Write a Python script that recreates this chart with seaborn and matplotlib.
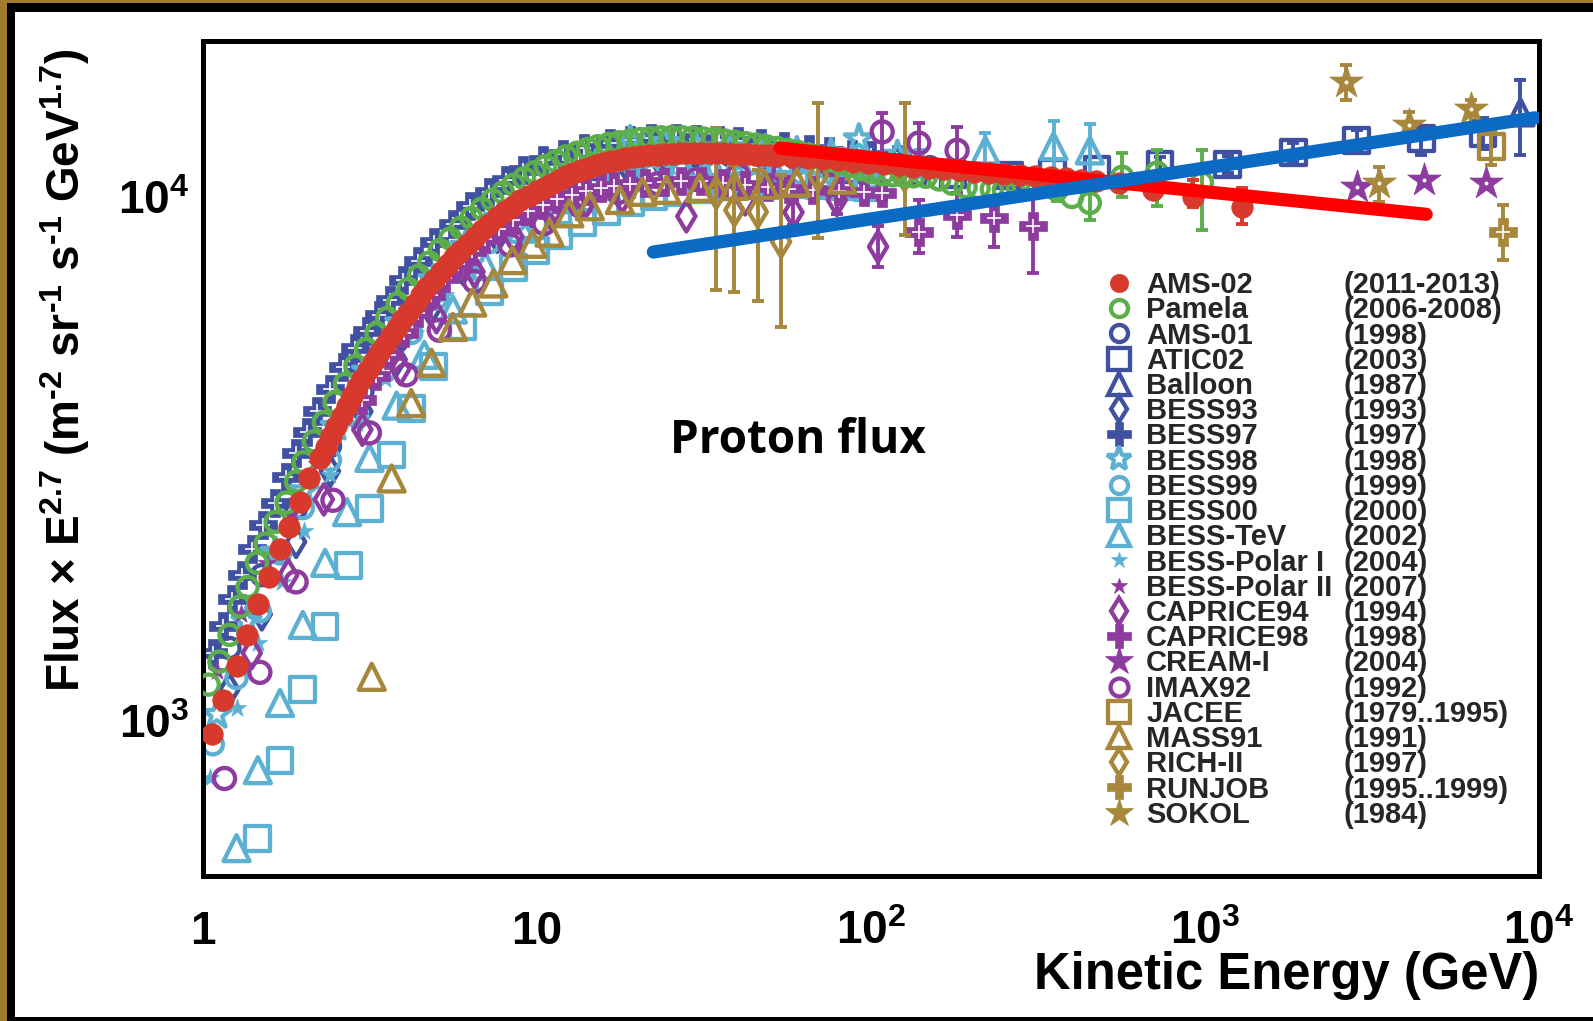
import numpy as np
import matplotlib
matplotlib.use("Agg")
import matplotlib.pyplot as plt
import matplotlib.ticker as mticker
from matplotlib.lines import Line2D
from matplotlib.patches import Rectangle
import seaborn as sns

sns.set_theme(style="white")
plt.rcParams['font.family'] = ['Liberation Sans', 'DejaVu Sans']
plt.rcParams['font.weight'] = 'bold'
plt.rcParams['mathtext.fontset'] = 'custom'
plt.rcParams['mathtext.rm'] = 'Liberation Sans:bold'
plt.rcParams['mathtext.bf'] = 'Liberation Sans:bold'
plt.rcParams['mathtext.it'] = 'Liberation Sans:bold'
plt.rcParams['mathtext.default'] = 'bf'

# ---------------- data (kinetic energy in GeV, flux x E^2.7) ----------------
ams02_E = [1.065, 1.15, 1.26, 1.35, 1.46, 1.58, 1.70, 1.81, 1.95, 2.07, 2.24, 2.33, 2.42, 2.51,
           2.60, 2.70, 2.80, 2.90, 3.00, 3.12, 3.25, 3.37, 3.50, 3.65, 3.80, 3.95, 4.10, 4.30,
           4.50, 4.70, 4.90, 5.15, 5.40, 5.65, 5.90, 6.20, 6.50, 6.85, 7.20, 7.60, 8.00, 8.45,
           8.90, 9.45, 10.0, 10.5, 11.0, 11.6, 12.2, 12.85, 13.5, 14.2, 15.0, 15.8, 16.7, 17.6,
           18.5, 19.5, 20.5, 21.6, 22.8, 24.0, 25.3, 26.6, 28.0, 29.5, 31.0, 32.7, 34.5, 36.4,
           38.3, 40.4, 42.5, 44.8, 47.2, 49.8, 52.4, 58.2, 64.6, 71.7, 79.6, 88.4, 98.1, 109,
           121, 134, 149, 165, 184, 204, 226, 251, 279, 310, 345, 383, 425, 472, 554, 700, 918,
           1294]
ams02_F = [944, 1100, 1274, 1462, 1671, 1883, 2130, 2345, 2625, 2905, 3180, 3340, 3500, 3665,
           3830, 4000, 4170, 4335, 4500, 4685, 4870, 5045, 5220, 5420, 5620, 5820, 6020, 6260,
           6500, 6725, 6950, 7200, 7450, 7675, 7900, 8150, 8400, 8650, 8900, 9150, 9400, 9625,
           9850, 10050, 10250, 10425, 10600, 10775, 10950, 11100, 11250, 11375, 11500, 11600,
           11700, 11775, 11850, 11900, 11950, 12000, 12050, 12075, 12100, 12110, 12120, 12125,
           12130, 12125, 12120, 12110, 12100, 12085, 12070, 12050, 12030, 12005, 11980, 11920,
           11860, 11800, 11740, 11680, 11610, 11550, 11490, 11420, 11360, 11300, 11240, 11180,
           11120, 11060, 11000, 10950, 10900, 10850, 10780, 10720, 10650, 10300, 10000, 9560]
ams02_err = {554: (250, 250), 700: (300, 300), 918: (440, 790), 1294: (660, 850)}

pamela_E = [1.04, 1.12, 1.20, 1.29, 1.36, 1.45, 1.54, 1.65, 1.78, 1.90, 2.00, 2.15, 2.30, 2.48,
            2.66, 2.86, 3.08, 3.31, 3.56, 3.83, 4.12, 4.43, 4.76, 5.12, 5.50, 5.92, 6.36, 6.84,
            7.36, 7.91, 8.51, 9.15, 9.84, 10.6, 11.4, 12.2, 13.2, 14.2, 15.2, 16.4, 17.6, 18.9,
            20.4, 21.9, 23.5, 25.3, 27.2, 29.3, 31.5, 33.8, 36.4, 39.1, 42.1, 45.2, 48.6, 52.3,
            56.2, 60.5, 65.0, 69.9, 75.2, 80.8, 86.9, 93.5, 100.5, 108, 116, 125, 134, 146, 160,
            175, 192, 210, 230, 250, 275, 303, 330, 360, 400, 452, 565, 718, 979]
pamela_F = [1175, 1300, 1462, 1655, 1804, 2006, 2183, 2400, 2614, 2865, 3120, 3420, 3720, 4060,
            4400, 4760, 5130, 5500, 5880, 6270, 6680, 7080, 7500, 7920, 8330, 8740, 9120, 9500,
            9870, 10200, 10550, 10850, 11150, 11450, 11700, 11950, 12150, 12350, 12500, 12620,
            12720, 12800, 12900, 12960, 13000, 13010, 13000, 12970, 12930, 12880, 12820, 12750,
            12670, 12590, 12500, 12400, 12300, 12180, 12050, 11900, 11750, 11600, 11450, 11300,
            11150, 11050, 11000, 10980, 10950, 10930, 10800, 10600, 10450, 10400, 10350, 10320,
            10450, 10650, 10500, 10320, 10000, 9740, 10930, 11130, 10650]
pamela_err = {360: (500, 500), 452: (700, 700), 565: (930, 1190), 718: (1520, 1140), 979: (1980, 1620)}

ams01_E = [1.2, 1.5, 1.9, 2.4, 3.0, 3.8, 4.8, 6.0, 7.6, 9.6, 12, 15, 19, 24, 30, 38, 48, 60, 76, 95, 120, 150]
ams01_F = [1380, 1900, 2550, 3350, 4250, 5300, 6500, 7700, 8900, 9900, 10700, 11300, 11700, 11900,
           12000, 12000, 11900, 11800, 11700, 11600, 11500, 11400]

atic02_E = [90, 133, 176, 260, 350, 475, 733, 1170, 1840, 2850, 4440, 6800]
atic02_F = [11300, 11180, 11040, 11000, 11150, 11280, 11540, 11540, 12170, 12830, 12950, 13230]
atic02_err = {733: (400, 400), 1170: (450, 450), 1840: (500, 500), 2850: (600, 600),
              4440: (950, 550), 6800: (900, 900)}

balloon_E = [8800]
balloon_F = [14500]
balloon_err = {8800: (2500, 2200)}

bess93_E = [1.2, 1.5, 1.9, 2.4, 3.0, 3.8, 4.8, 6.0, 7.6, 9.6, 12, 15, 19, 24, 30]
bess93_F = [1150, 1600, 2200, 3000, 3900, 4900, 6100, 7300, 8400, 9400, 10200, 10800, 11200, 11400, 11500]

bess97_E = [1.07, 1.15, 1.22, 1.31, 1.40, 1.51, 1.64, 1.77, 1.90, 2.05, 2.20, 2.40, 2.63, 2.85,
            3.10, 3.36, 3.63, 3.98, 4.40, 4.90, 5.60, 6.30, 7.20, 8.10, 9.10, 10.4, 12.0, 13.8,
            16.5, 19.0, 22.0, 26.0, 30.0, 35.0, 40.0, 47.0, 55.0, 65.0, 75.0, 88.0, 100, 120]
bess97_F = [1349, 1520, 1714, 1900, 2128, 2370, 2612, 2930, 3250, 3570, 3900, 4300, 4745, 5150,
            5550, 5960, 6370, 6950, 7550, 8200, 8870, 9600, 10200, 10780, 11280, 11750, 12100,
            12400, 12670, 12850, 12950, 12950, 12900, 12850, 12800, 12650, 12500, 12350, 12250,
            12100, 12000, 11800]

bess98_E = [1.1, 1.35, 1.65, 2.0, 2.5, 3.1, 3.9, 4.9, 6.1, 7.7, 9.6, 12, 15, 19, 24, 30, 38, 48, 60, 76, 92, 120]
bess98_F = [1030, 1550, 2100, 2750, 3650, 4650, 5750, 6950, 8050, 9100, 10000, 10800, 11500, 12800,
            12700, 12400, 12400, 12300, 12200, 12100, 12900, 12000]

bess99_E = [1.07, 1.26, 1.48, 1.70, 1.99, 2.4, 2.9, 3.5, 4.2, 5.0, 6.0, 7.2, 8.6, 10.3, 12.4, 15,
            18, 22, 27, 33, 40, 50, 62, 78, 100]
bess99_F = [904, 1210, 1620, 2090, 2550, 3150, 3800, 4650, 5500, 6400, 7350, 8200, 9000, 9600,
            10100, 10500, 10800, 11000, 11150, 11200, 11200, 11150, 11100, 11000, 10900]

bess00_E = [1.46, 1.7, 1.99, 2.32, 2.72, 3.15, 3.67, 4.2, 4.9, 6.0, 7.2, 8.5, 9.9, 11.6, 13.7,
            16.1, 19, 22.4, 26.4, 31, 36.5, 43, 50.6, 59.6, 70.2, 82.6, 97.3]
bess00_F = [598, 843, 1148, 1514, 1985, 2550, 3220, 3950, 4750, 5650, 6600, 7350, 7900, 8450,
            8950, 9400, 9750, 10000, 10200, 10350, 10450, 10500, 10550, 10550, 10500, 10450, 10400]

besstev_E = [1.26, 1.46, 1.70, 1.99, 2.32, 2.70, 3.15, 3.8, 4.6, 5.6, 7.0, 9.0, 12, 16, 22, 30,
             40, 55, 75, 100, 140, 220, 352, 452]
besstev_F = [573, 807, 1084, 1527, 2006, 2506, 3180, 4000, 5000, 6100, 7400, 8700, 9900, 10700,
             11300, 11600, 11700, 11700, 11600, 11500, 11600, 12270, 12500, 12270]
besstev_err = {140: (700, 700), 220: (1500, 1000), 352: (1670, 1480), 452: (1800, 1500)}

polar1_E = [1.05, 1.26, 1.46, 1.72, 2.0, 2.4, 2.9, 3.5, 4.3, 5.3, 6.5, 8, 10, 12.5, 16, 20, 25,
            32, 40, 50, 63, 80, 100]
polar1_F = [780, 1060, 1410, 1840, 2310, 2950, 3700, 4500, 5500, 6500, 7500, 8500, 9400, 10200,
            10800, 11200, 11400, 11500, 11500, 11400, 11300, 11200, 11100]

polar2_E = [1.1, 1.3, 1.55, 1.85, 2.2, 2.6, 3.1, 3.7, 4.4, 5.3, 6.3, 7.5, 9, 11, 13, 16, 20, 25,
            32, 40, 50, 63, 80, 100]
polar2_F = [1250, 1600, 2000, 2500, 3100, 3750, 4500, 5300, 6150, 7100, 8000, 8850, 9700, 10500,
            11000, 11400, 11700, 11850, 11900, 11850, 11800, 11700, 11600, 11500]

caprice94_E = [1.4, 1.8, 2.3, 3.0, 3.9, 5.0, 6.5, 8.5, 11, 14, 18, 28, 42, 58.6, 79, 105]
caprice94_F = [1350, 1900, 2650, 3600, 4700, 5900, 7200, 8400, 9300, 9800, 10000, 9190, 9900,
               9350, 9870, 8040]
caprice94_err = {58.6: (500, 500), 79: (600, 600), 105: (690, 750)}

caprice98_E = [3.0, 3.3, 3.6, 4.0, 4.4, 4.8, 5.3, 5.8, 6.4, 7.0, 7.7, 8.5, 9.4, 10.4, 11.5, 12.7,
               14.0, 15.5, 17.0, 19.0, 21.0, 24.0, 27.0, 31.0, 36.0, 42.0, 49.0, 57.0, 67.0, 80.0,
               95.0, 108, 139, 181, 233, 305]
caprice98_F = [4100, 4550, 5000, 5500, 6000, 6500, 7000, 7450, 7900, 8300, 8700, 9050, 9400, 9650,
               9900, 10100, 10250, 10400, 10500, 10600, 10650, 10700, 10750, 10750, 10650, 10550,
               10450, 10350, 10300, 10250, 10200, 10180, 8590, 9230, 9110, 8790]
caprice98_err = {108: (300, 300), 139: (760, 1280), 181: (830, 950), 233: (1070, 760), 305: (1640, 1530)}

cream_E = [2860, 4530, 6960]
cream_F = [10450, 10790, 10650]

imax92_E = [1.16, 1.48, 1.9, 2.45, 3.15, 4.06, 5.1, 6.5, 8.3, 10.5, 13.5, 17.5, 23, 30, 40, 55,
            75, 108, 139, 181]
imax92_F = [778, 1240, 1845, 2640, 3550, 4580, 5570, 6900, 8100, 8900, 9600, 10200, 10600, 10800,
            11000, 11200, 11600, 13310, 12670, 12270]
imax92_err = {75: (600, 600), 108: (1200, 1180), 139: (1240, 1180), 181: (1340, 1330)}

jacee_E = [7200]
jacee_F = [12500]
jacee_err = {7200: (1000, 900)}

mass91_E = [3.2, 3.67, 4.2, 4.83, 5.6, 6.4, 7.4, 8.45, 9.7, 10.9, 12.5, 14.4, 17.7, 20.7, 24.4,
            30.7, 39, 48, 59.9, 82]
mass91_F = [1216, 2905, 4045, 4830, 5650, 6290, 6840, 7580, 8140, 8550, 9310, 9600, 9870, 10230,
            10320, 10410, 10500, 10550, 10650, 10790]

rich2_E = [34.4, 39, 45.8, 53.8, 69.4, 126]
rich2_F = [10180, 9440, 9370, 8220, 11000, 11000]
rich2_err = {34.4: (3520, 3360), 39: (2840, 2060), 45.8: (3050, 1910), 53.8: (2570, 2810),
             69.4: (2630, 4130), 126: (2520, 4130)}

runjob_E = [7800]
runjob_F = [8590]
runjob_err = {7800: (1010, 1060)}

sokol_E = [2650, 3320, 4090, 6250]
sokol_F = [16560, 10650, 13730, 14690]
sokol_err = {2650: (1230, 1310), 3320: (870, 780), 4090: (720, 820), 6250: (840, 640)}

# straight lines drawn over the data
red_line_E = [53.4, 4594]
red_line_F = [12390, 9270]
blue_line_E = [22.3, 9727]
blue_line_F = [7853, 14160]

names = ['AMS-02', 'Pamela', 'AMS-01', 'ATIC02', 'Balloon', 'BESS93', 'BESS97', 'BESS98',
         'BESS99', 'BESS00', 'BESS-TeV', 'BESS-Polar I', 'BESS-Polar II', 'CAPRICE94',
         'CAPRICE98', 'CREAM-I', 'IMAX92', 'JACEE', 'MASS91', 'RICH-II', 'RUNJOB', 'SOKOL']
years = ['(2011-2013)', '(2006-2008)', '(1998)', '(2003)', '(1987)', '(1993)', '(1997)', '(1998)',
         '(1999)', '(2000)', '(2002)', '(2004)', '(2007)', '(1994)', '(1998)', '(2004)', '(1992)',
         '(1979..1995)', '(1991)', '(1997)', '(1995..1999)', '(1984)']

xtick_vals = [1, 10, 100, 1000, 10000]
xtick_labels = ['1', '10', r'$10^{2}$', r'$10^{3}$', r'$10^{4}$']
ytick_vals = [1000, 10000]
ytick_labels = [r'$10^{3}$', r'$10^{4}$']

# ---------------- styles ----------------
RED = '#D73A2C'
GREEN = '#5CAE4B'
DBLUE = '#4151A2'
LBLUE = '#5CB1D3'
PURPLE = '#8D3B9E'
GOLD = '#A6873B'

styles = {
    'AMS-02':        dict(m='o', c=RED, fill=True, s=240, z=4.0),
    'Pamela':        dict(m='o', c=GREEN, fill=False, s=210, z=3.0),
    'AMS-01':        dict(m='o', c=DBLUE, fill=False, s=210, z=2.0),
    'ATIC02':        dict(m='s', c=DBLUE, fill=False, s=320, z=2.1),
    'Balloon':       dict(m='^', c=DBLUE, fill=False, s=350, z=2.1),
    'BESS93':        dict(m='d', c=DBLUE, fill=False, s=240, z=2.0),
    'BESS97':        dict(m='P', c=DBLUE, fill=True, s=380, z=1.9, inner=True),
    'BESS98':        dict(m='*', c=LBLUE, fill=False, s=450, z=2.2),
    'BESS99':        dict(m='o', c=LBLUE, fill=False, s=210, z=2.2),
    'BESS00':        dict(m='s', c=LBLUE, fill=False, s=320, z=2.2),
    'BESS-TeV':      dict(m='^', c=LBLUE, fill=False, s=350, z=2.2),
    'BESS-Polar I':  dict(m='*', c=LBLUE, fill=True, s=190, z=2.2),
    'BESS-Polar II': dict(m='*', c=PURPLE, fill=True, s=190, z=2.4),
    'CAPRICE94':     dict(m='d', c=PURPLE, fill=False, s=240, z=2.4),
    'CAPRICE98':     dict(m='P', c=PURPLE, fill=True, s=380, z=2.4, inner=True),
    'CREAM-I':       dict(m='*', c=PURPLE, fill=True, s=650, z=2.4, dot=True),
    'IMAX92':        dict(m='o', c=PURPLE, fill=False, s=230, z=2.4),
    'JACEE':         dict(m='s', c=GOLD, fill=False, s=320, z=2.6),
    'MASS91':        dict(m='^', c=GOLD, fill=False, s=350, z=2.6),
    'RICH-II':       dict(m='d', c=GOLD, fill=False, s=240, z=2.6),
    'RUNJOB':        dict(m='P', c=GOLD, fill=True, s=380, z=2.6, inner=True),
    'SOKOL':         dict(m='*', c=GOLD, fill=True, s=650, z=2.6, dot=True),
}

series = {
    'AMS-02': (ams02_E, ams02_F, ams02_err), 'Pamela': (pamela_E, pamela_F, pamela_err),
    'AMS-01': (ams01_E, ams01_F, None), 'ATIC02': (atic02_E, atic02_F, atic02_err),
    'Balloon': (balloon_E, balloon_F, balloon_err), 'BESS93': (bess93_E, bess93_F, None),
    'BESS97': (bess97_E, bess97_F, None), 'BESS98': (bess98_E, bess98_F, None),
    'BESS99': (bess99_E, bess99_F, None), 'BESS00': (bess00_E, bess00_F, None),
    'BESS-TeV': (besstev_E, besstev_F, besstev_err), 'BESS-Polar I': (polar1_E, polar1_F, None),
    'BESS-Polar II': (polar2_E, polar2_F, None), 'CAPRICE94': (caprice94_E, caprice94_F, caprice94_err),
    'CAPRICE98': (caprice98_E, caprice98_F, caprice98_err), 'CREAM-I': (cream_E, cream_F, None),
    'IMAX92': (imax92_E, imax92_F, imax92_err), 'JACEE': (jacee_E, jacee_F, jacee_err),
    'MASS91': (mass91_E, mass91_F, None), 'RICH-II': (rich2_E, rich2_F, rich2_err),
    'RUNJOB': (runjob_E, runjob_F, runjob_err), 'SOKOL': (sokol_E, sokol_F, sokol_err),
}

# ---------------- figure ----------------
W, H = 1593, 1021
fig = plt.figure(figsize=(W / 100, H / 100), dpi=100)
fig.patch.set_facecolor('#A07B2D')
fig.add_artist(Rectangle((7 / W, 0), 1, 1 - 3 / H, transform=fig.transFigure,
                         facecolor='black', edgecolor='none', zorder=-5))
fig.add_artist(Rectangle((15 / W, 4 / H), 1, 1 - 16 / H, transform=fig.transFigure,
                         facecolor='white', edgecolor='none', zorder=-4))

ax = fig.add_axes([203 / W, 1 - 876 / H, 1336 / W, 835 / H])
ax.set_facecolor('white')
ax.set_xscale('log')
ax.set_yscale('log')

LW = 3.1


def draw_series(name):
    E, F, err = series[name]
    st = styles[name]
    if err:
        idx = [E.index(e) for e in err]
        ax.errorbar([E[i] for i in idx], [F[i] for i in idx],
                    yerr=[[err[E[i]][0] for i in idx], [err[E[i]][1] for i in idx]],
                    fmt='none', ecolor=st['c'], elinewidth=2.8, capsize=4.5, capthick=2.8,
                    zorder=st['z'] - 0.05)
    if st['fill']:
        sns.scatterplot(x=E, y=F, ax=ax, marker=st['m'], s=st['s'], color=st['c'],
                        edgecolor=st['c'], linewidth=0.5, zorder=st['z'], legend=False)
    else:
        sns.scatterplot(x=E, y=F, ax=ax, marker=st['m'], s=st['s'], facecolor='none',
                        edgecolor=st['c'], linewidth=LW, zorder=st['z'], legend=False)
    if st.get('inner'):
        sns.scatterplot(x=E, y=F, ax=ax, marker='+', s=st['s'] * 0.3, color='white',
                        linewidth=1.2, zorder=st['z'] + 0.01, legend=False)
    if st.get('dot'):
        sns.scatterplot(x=E, y=F, ax=ax, marker='o', s=8, color='white',
                        linewidth=0, zorder=st['z'] + 0.01, legend=False)


for nm in names:
    draw_series(nm)

sns.lineplot(x=red_line_E, y=red_line_F, ax=ax, color='#FF0000', linewidth=9.5,
             solid_capstyle='round', zorder=5, estimator=None, sort=False, legend=False)
sns.lineplot(x=blue_line_E, y=blue_line_F, ax=ax, color='#0B6BC4', linewidth=9.5,
             solid_capstyle='round', zorder=6, estimator=None, sort=False, legend=False)

ax.set_xlim(1, 1e4)
ax.set_ylim(507, 19840)

# ticks
ax.xaxis.set_major_locator(mticker.FixedLocator(xtick_vals))
ax.xaxis.set_major_formatter(mticker.FixedFormatter(xtick_labels))
ax.xaxis.set_minor_locator(mticker.LogLocator(base=10, subs=np.arange(2, 10)))
ax.xaxis.set_minor_formatter(mticker.NullFormatter())
ax.yaxis.set_major_locator(mticker.FixedLocator(ytick_vals))
ax.yaxis.set_major_formatter(mticker.FixedFormatter(ytick_labels))
ax.yaxis.set_minor_locator(mticker.LogLocator(base=10, subs=np.arange(2, 10)))
ax.yaxis.set_minor_formatter(mticker.NullFormatter())

ax.tick_params(which='both', direction='in', top=False, right=False, width=2.9,
               color='black', labelcolor='black', labelsize=33)
ax.tick_params(axis='y', which='major', length=29, pad=10)
ax.tick_params(axis='y', which='minor', length=14)
ax.tick_params(axis='x', which='major', length=19, pad=49)
ax.tick_params(axis='x', which='minor', length=9.5)
for lab in ax.get_xticklabels():
    lab.set_va('baseline')
    lab.set_fontweight('bold')
for lab in ax.get_yticklabels():
    lab.set_fontweight('bold')

for sp in ax.spines.values():
    sp.set_color('black')
    sp.set_linewidth(3.6)

ax.set_xlabel('Kinetic Energy (GeV)', fontsize=36.5, fontweight='bold', color='black', ha='right')
ax.xaxis.set_label_coords(1.0, -0.090)
ax.set_ylabel(r'Flux × E$^{2.7}$ (m$^{\text{-}2}$ sr$^{\text{-}1}$ s$^{\text{-}1}$ GeV$^{1.7}$)',
              fontsize=33, fontweight='bold', color='black')
ax.yaxis.set_label_coords(-0.083, 0.606)

ax.text(0.3496, 0.5066, 'Proton flux', transform=ax.transAxes, fontsize=33,
        family='Open Sans', fontweight='bold', va='baseline', ha='left', color='black')

# legend: markers + names, and a second column of years
handles = []
for nm in names:
    st = styles[nm]
    ms = np.sqrt(st['s']) * 0.85
    if st['fill']:
        h = Line2D([], [], linestyle='none', marker=st['m'], markersize=ms,
                   markerfacecolor=st['c'], markeredgecolor=st['c'], markeredgewidth=0.5)
    else:
        h = Line2D([], [], linestyle='none', marker=st['m'], markersize=ms,
                   markerfacecolor='none', markeredgecolor=st['c'], markeredgewidth=LW)
    handles.append(h)

leg_prop = dict(family='Liberation Sans', weight='bold', size=21)
leg1 = ax.legend(handles, names, loc='upper left', bbox_to_anchor=(0.675, 0.7245),
                 frameon=False, borderpad=0, borderaxespad=0, handlelength=1.0,
                 handletextpad=0.42, labelspacing=-0.095, prop=leg_prop)
ax.add_artist(leg1)
blank = [Line2D([], [], linestyle='none') for _ in years]
leg2 = ax.legend(blank, years, loc='upper left', bbox_to_anchor=(0.8533, 0.7245),
                 frameon=False, borderpad=0, borderaxespad=0, handlelength=0,
                 handletextpad=0, labelspacing=-0.095, prop=leg_prop)

fig.savefig('out.png', dpi=100, facecolor=fig.get_facecolor())
